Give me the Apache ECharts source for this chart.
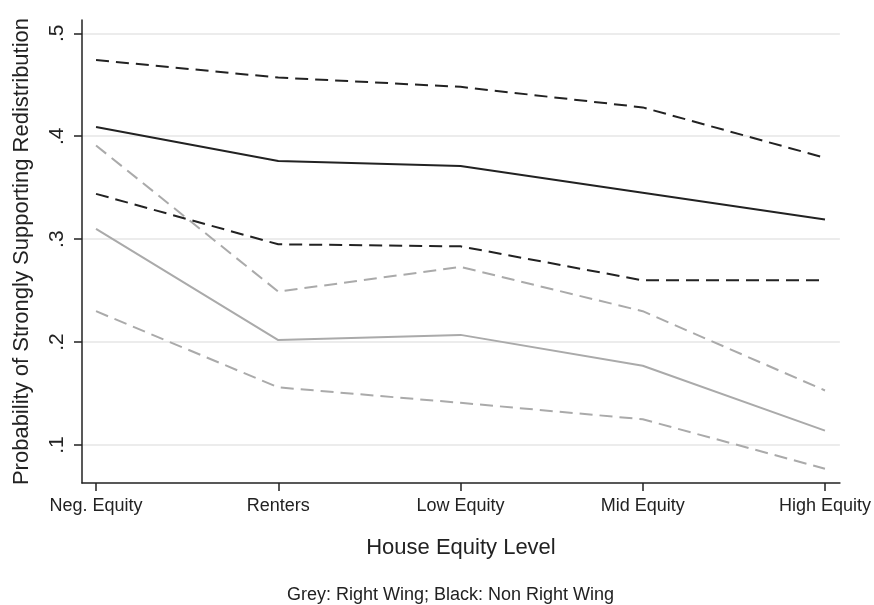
<!DOCTYPE html>
<html>
<head>
<meta charset="utf-8">
<script src="https://cdn.jsdelivr.net/npm/echarts@6/dist/echarts.min.js"></script>
<style>
  html, body { margin: 0; padding: 0; background: #fff; }
  #chart { width: 874px; height: 605px; }
</style>
</head>
<body>
<div id="chart"></div>
<script>
// categories on the x axis
const categories = ['Neg. Equity', 'Renters', 'Low Equity', 'Mid Equity', 'High Equity']
const yTicks = [0.1, 0.2, 0.3, 0.4, 0.5]

// Non right wing (black): estimate and bounds
const blackMean = [0.409, 0.376, 0.371, 0.345, 0.319]
const blackUpper = [0.474, 0.457, 0.448, 0.428, 0.379]
const blackLower = [0.344, 0.295, 0.293, 0.260, 0.260]

// Right wing (grey): estimate and bounds
const greyMean = [0.310, 0.202, 0.207, 0.177, 0.114]
const greyUpper = [0.391, 0.249, 0.273, 0.230, 0.153]
const greyLower = [0.230, 0.156, 0.141, 0.125, 0.077]

const font = 'Liberation Sans, Arial, Helvetica, sans-serif'

function pairs(values) {
  return values.map((v, i) => [i, v])
}

function line(name, values, color, dashed) {
  return {
    name: name,
    type: 'line',
    data: pairs(values),
    symbol: 'none',
    silent: true,
    lineStyle: {
      color: color,
      width: 2,
      type: dashed ? [13, 7] : 'solid'
    }
  }
}

const myChart = echarts.init(document.getElementById('chart'))

const option = {
  animation: false,
  backgroundColor: '#fff',
  textStyle: { fontFamily: font },
  grid: {
    left: 82,
    right: 32,
    top: 20,
    bottom: 122,
    containLabel: false
  },
  xAxis: {
    type: 'value',
    min: -0.077,
    max: 4.082,
    name: 'House Equity Level',
    nameLocation: 'middle',
    nameGap: 54,
    nameTextStyle: { fontSize: 22, color: '#222', fontFamily: font },
    axisLine: { show: true, onZero: false, lineStyle: { color: '#222', width: 1.5 } },
    axisTick: { show: true, length: 8, customValues: [0, 1, 2, 3, 4], lineStyle: { color: '#222', width: 1.5 } },
    axisLabel: {
      customValues: [0, 1, 2, 3, 4],
      formatter: v => categories[Math.round(v)],
      fontSize: 18,
      color: '#222',
      margin: 14,
      fontFamily: font
    },
    splitLine: { show: false }
  },
  yAxis: {
    type: 'value',
    min: 0.0631,
    max: 0.5129,
    name: 'Probability of Strongly Supporting Redistribution',
    nameLocation: 'middle',
    nameGap: 49,
    nameTextStyle: { fontSize: 22, color: '#222', fontFamily: font },
    axisLine: { show: true, onZero: false, lineStyle: { color: '#222', width: 1.5 } },
    axisTick: { show: true, length: 8, customValues: yTicks, lineStyle: { color: '#222', width: 1.5 } },
    axisLabel: {
      customValues: yTicks,
      formatter: v => '.' + Math.round(v * 10),
      rotate: 90,
      fontSize: 21,
      color: '#222',
      margin: 14,
      fontFamily: font
    },
    splitLine: { show: true, lineStyle: { color: '#e6e6e6', width: 1.5 } }
  },
  graphic: [{
    type: 'text',
    left: 287,
    top: 586,
    style: {
      text: 'Grey: Right Wing; Black: Non Right Wing',
      fontSize: 18,
      fill: '#222',
      fontFamily: font
    }
  }],
  series: [
    line('Right Wing upper', greyUpper, '#aaa', true),
    line('Right Wing lower', greyLower, '#aaa', true),
    line('Right Wing', greyMean, '#aaa', false),
    line('Non Right Wing upper', blackUpper, '#222', true),
    line('Non Right Wing lower', blackLower, '#222', true),
    line('Non Right Wing', blackMean, '#222', false)
  ]
}

option && myChart.setOption(option)
</script>
</body>
</html>
